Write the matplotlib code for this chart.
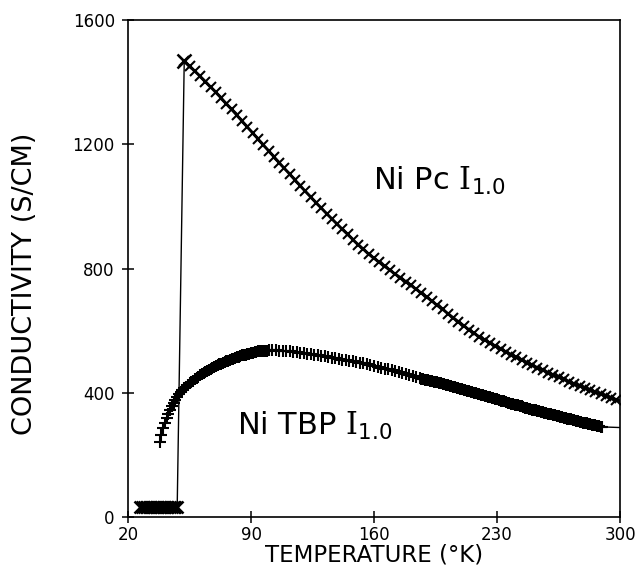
import matplotlib
matplotlib.use("Agg")
import matplotlib.pyplot as plt

plt.rcParams['font.family'] = ['DejaVu Sans']
plt.rcParams['mathtext.fontset'] = 'dejavuserif'

# ---------------- data ----------------
# Ni Pc I1.0 : low-temperature plateau
T_pc_low = [27, 28, 29, 30, 31, 32, 33, 34, 35, 36, 37, 38, 39, 40, 41, 42, 43, 44, 45, 46, 47, 48]
s_pc_low = [33, 33, 33, 33, 33, 33, 33, 33, 33, 33, 33, 33, 33, 33, 33, 33, 33, 33, 33, 33, 33, 33]
# Ni Pc I1.0 : metallic branch
T_pc_high = [52, 55, 58, 61, 64, 67, 70, 73, 76, 79, 82, 85, 88, 91, 94, 97, 100, 103, 106, 109,
             112, 115, 118, 121, 124, 127, 130, 133, 136, 139, 142, 145, 148, 151, 154, 157, 160,
             163, 166, 169, 172, 175, 178, 181, 184, 187, 190, 193, 196, 199, 202, 205, 208, 211,
             214, 217, 220, 223, 226, 229, 232, 235, 238, 241, 244, 247, 250, 253, 256, 259, 262,
             265, 268, 271, 274, 277, 280, 283, 286, 289, 292, 295, 298, 300]
s_pc_high = [1467, 1451, 1435, 1419, 1402, 1384, 1367, 1349, 1330, 1312, 1293, 1274, 1255, 1236,
             1217, 1198, 1179, 1160, 1141, 1122, 1104, 1085, 1067, 1048, 1030, 1012, 995, 977, 960,
             943, 926, 910, 893, 877, 862, 846, 833, 820, 807, 795, 782, 771, 758, 746, 733, 721,
             708, 695, 681, 669, 655, 642, 629, 616, 603, 591, 580, 570, 560, 551, 541, 532, 523,
             514, 506, 497, 489, 481, 473, 465, 458, 450, 443, 436, 429, 422, 415, 409, 402, 396,
             390, 384, 378, 374]

# Ni TBP I1.0
T_tbp = [38, 39, 40, 41, 42, 43, 44, 45, 46, 47, 48, 49, 50, 51, 52, 53, 54, 55, 56, 57, 58, 59,
         60, 61, 62, 63, 64, 65, 66, 67, 68, 69, 70, 71, 72, 73, 74, 75, 76, 77, 78, 79, 80, 81,
         82, 83, 84, 85, 86, 87, 88, 89, 90, 91, 92, 93, 94, 95, 96, 97, 98, 99, 100,
         102, 104, 106, 108, 110, 112, 114, 116, 118, 120, 122, 124, 126, 128, 130, 132, 134, 136,
         138, 140, 142, 144, 146, 148, 150, 152, 154, 156, 158, 160, 162, 164, 166, 168, 170, 172,
         174, 176, 178, 180, 182, 184, 186,
         187, 188, 189, 190, 191, 192, 193, 194, 195, 196, 197, 198, 199, 200, 201, 202, 203, 204,
         205, 206, 207, 208, 209, 210, 211, 212, 213, 214, 215, 216, 217, 218, 219, 220, 221, 222,
         223, 224, 225, 226, 227, 228, 229, 230, 231, 232, 233, 234, 235, 236, 237, 238, 239, 240,
         241, 242, 243, 244, 245, 246, 247, 248, 249, 250, 251, 252, 253, 254, 255, 256, 257, 258,
         259, 260, 261, 262, 263, 264, 265, 266, 267, 268, 269, 270, 271, 272, 273, 274, 275, 276,
         277, 278, 279, 280, 281, 282, 283, 284, 285, 286, 287, 288, 289, 290, 300]
s_tbp = [242, 264, 285, 302, 318, 332, 345, 357, 368, 378, 387, 395, 402, 408, 414, 420, 425, 430,
         435, 439, 444, 448, 452, 456, 459, 463, 466, 470, 473, 476, 480, 483, 486, 489, 491, 494,
         496, 499, 501, 503, 506, 508, 510, 512, 514, 516, 518, 520, 522, 523, 525, 526, 528, 529,
         530, 532, 533, 534, 535, 535, 536, 536, 537,
         537, 537, 536, 535, 534, 533, 531, 530, 529, 527, 525, 524, 522, 521, 519, 517, 515, 513,
         511, 509, 507, 505, 503, 501, 499, 497, 495, 492, 489, 486, 483, 480, 478, 475, 472, 469,
         466, 463, 460, 457, 454, 450, 447,
         445, 444, 442, 441, 440, 438, 437, 435, 434, 433, 431, 430, 428, 427, 425, 424, 422, 421,
         419, 417, 416, 414, 413, 411, 409, 408, 406, 405, 403, 401, 400, 398, 397, 395, 393, 392,
         390, 389, 387, 385, 384, 382, 381, 379, 377, 375, 374, 372, 370, 368, 367, 365, 364, 362,
         360, 359, 357, 356, 354, 352, 351, 349, 348, 346, 344, 343, 341, 340, 338, 337, 335, 334,
         332, 331, 330, 328, 327, 325, 324, 323, 321, 320, 318, 317, 316, 314, 313, 311, 310, 309,
         307, 306, 304, 303, 302, 300, 299, 297, 296, 295, 294, 292, 291, 290, 288]

x_ticks = [20, 90, 160, 230, 300]
x_ticklabels = ["20", "90", "160", "230", "300"]
y_ticks = [0, 400, 800, 1200, 1600]
y_ticklabels = ["0", "400", "800", "1200", "1600"]

# ---------------- figure ----------------
fig = plt.figure(figsize=(6.37, 5.79), dpi=100)
ax = fig.add_axes([128 / 637, 62 / 579, 492 / 637, 497 / 579])

T_pc = T_pc_low + T_pc_high
s_pc = s_pc_low + s_pc_high

# Ni Pc: connecting line + x markers
ax.plot(T_pc_low + T_pc_high[:1], s_pc_low + s_pc_high[:1], color='k', lw=1.0, zorder=2)
ax.plot(T_pc_high, s_pc_high, color='k', lw=2.0, zorder=2)
ax.plot(T_pc_low, s_pc_low, ls='none', marker='x', ms=8, mew=1.8, color='k', zorder=3)
ax.plot(T_pc_high[:-1], s_pc_high[:-1], ls='none', marker='x', ms=7, mew=1.5, color='k', zorder=3)
ax.plot(T_pc_high[:1], s_pc_high[:1], ls='none', marker='x', ms=10, mew=1.8, color='k', zorder=3)

# Ni TBP: connecting line + plus markers
ax.plot(T_tbp, s_tbp, color='k', lw=1.0, zorder=2)
ax.plot(T_tbp[:-1], s_tbp[:-1], ls='none', marker='+', ms=9, mew=1.5, color='k', zorder=3)

ax.set_xlim(20, 300)
ax.set_ylim(0, 1600)
ax.set_xticks(x_ticks)
ax.set_xticklabels(x_ticklabels)
ax.set_yticks(y_ticks)
ax.set_yticklabels(y_ticklabels)
ax.tick_params(direction='inout', length=9, width=1.1, labelsize=12, colors='k')
ax.tick_params(axis='x', pad=2)
ax.tick_params(axis='y', pad=5)
for sp in ax.spines.values():
    sp.set_linewidth(1.2)
    sp.set_color('k')

ax.set_xlabel("TEMPERATURE (°K)", fontsize=16.5)
ax.xaxis.set_label_coords(0.5, -0.053)
ax.set_ylabel("CONDUCTIVITY (S/CM)", fontsize=19.5)
ax.yaxis.label.set_va('center')
ax.yaxis.set_label_coords(-0.209, 0.47)

ax.text(159.5, 1053, r"Ni Pc $\mathrm{I}_{\mathsf{1.0}}$", fontsize=22, ha='left', va='baseline')
ax.text(82, 264, r"Ni TBP $\mathrm{I}_{\mathsf{1.0}}$", fontsize=22, ha='left', va='baseline')

fig.savefig("out.png", dpi=100)
